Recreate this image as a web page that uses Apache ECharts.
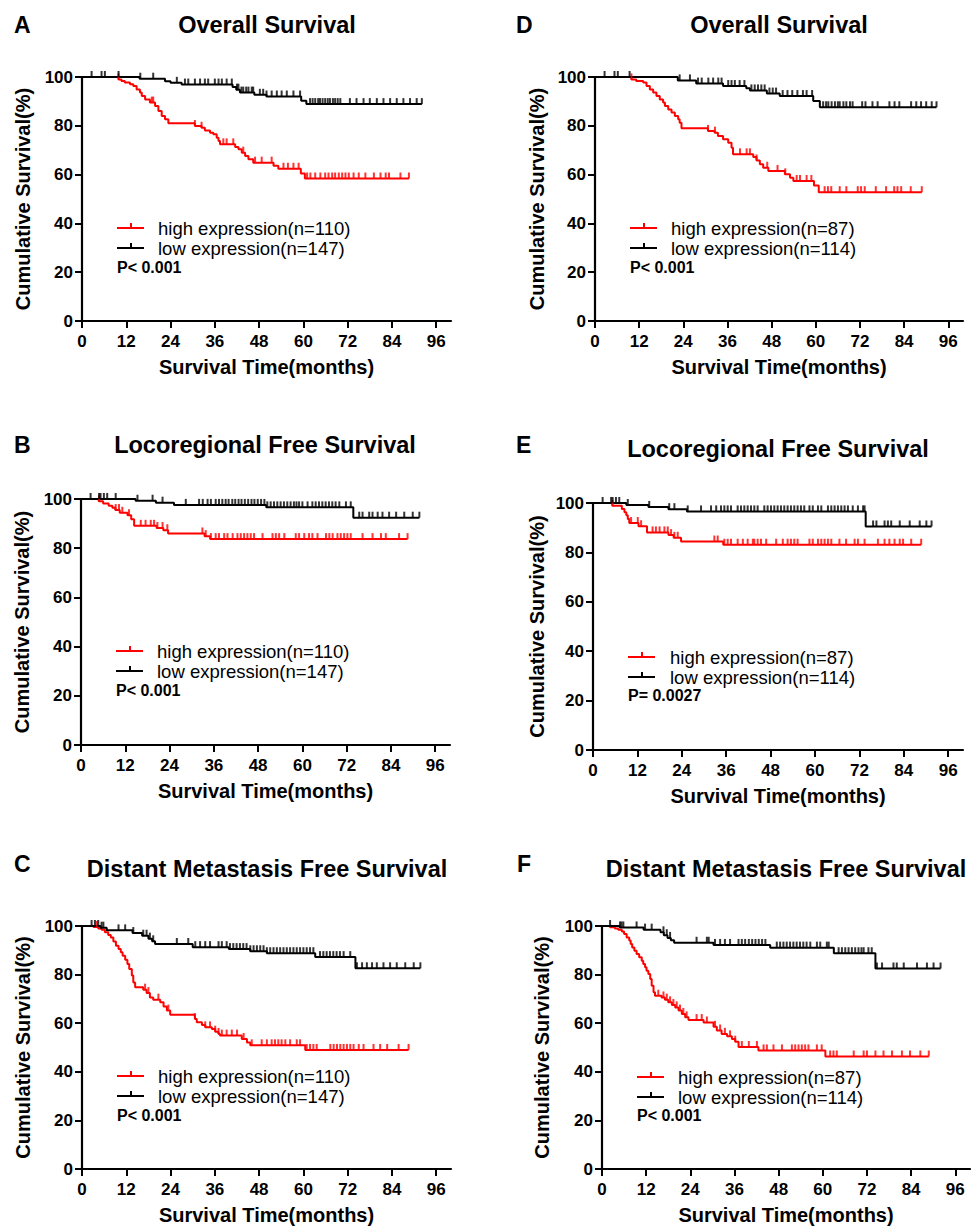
<!DOCTYPE html>
<html><head><meta charset="utf-8">
<script src="https://cdn.jsdelivr.net/npm/echarts@6/dist/echarts.min.js"></script>
<style>html,body{margin:0;padding:0;background:#fff}#c{width:971px;height:1226px}</style>
</head><body><div id="c"></div>
<script>
// ---------- DATA (time in months, cumulative survival in %) ----------
const xTicks = [0, 12, 24, 36, 48, 60, 72, 84, 96];
const panelLetters = ['A', 'B', 'C', 'D', 'E', 'F'];
const panelTitles = ['Overall Survival', 'Locoregional Free Survival', 'Distant Metastasis Free Survival',
                     'Overall Survival', 'Locoregional Free Survival', 'Distant Metastasis Free Survival'];
const highLabels = ['high expression(n=110)', 'high expression(n=110)', 'high expression(n=110)',
                    'high expression(n=87)', 'high expression(n=87)', 'high expression(n=87)'];
const lowLabels = ['low expression(n=147)', 'low expression(n=147)', 'low expression(n=147)',
                   'low expression(n=114)', 'low expression(n=114)', 'low expression(n=114)'];
const pValues = ['P< 0.001', 'P< 0.001', 'P< 0.001', 'P< 0.001', 'P= 0.0027', 'P< 0.001'];

// Panel A
const A_high = [[0,100],[9.9,99.0],[10.7,98.4],[11.6,97.7],[13.0,97.0],[13.9,96.3],[14.8,94.9],[15.7,93.6],[16.2,92.2],[17.1,90.8],[18.4,89.5],[19.8,88.1],[20.7,86.1],[21.6,84.0],[22.5,82.7],[23.4,81.0],[30.6,79.9],[32.4,79.2],[33.3,78.1],[34.7,77.2],[35.6,76.5],[36.5,75.1],[37.0,73.8],[37.4,72.4],[41.5,71.3],[42.4,70.4],[43.3,69.0],[44.2,67.6],[45.1,66.3],[46.4,64.9],[51.9,63.6],[53.2,62.4],[59.3,60.5],[60.4,58.4]];
const A_high_cens = [9.9,18.9,19.3,30.6,32.4,38.3,39.2,41.0,43.7,46.9,48.7,51.4,54.6,55.8,57.3,58.7,61.0,61.9,63.2,64.6,65.9,66.8,67.8,68.6,69.6,70.5,71.4,72.3,73.6,75.0,76.8,79.1,80.9,82.3,83.2,86.3,88.6];
const A_low = [[0,100],[15.6,99.3],[22.5,98.3],[24.0,97.6],[27.0,96.9],[40.8,95.9],[41.8,94.8],[42.8,93.6],[46.7,92.7],[50.0,92.0],[59.4,90.3],[60.8,88.9]];
const A_low_cens = [2.6,5.3,6.2,9.9,15.8,19.3,25.7,27.9,28.8,30.6,32.0,33.3,34.2,36.0,37.0,37.9,39.2,40.6,42.0,42.4,43.2,43.7,44.5,45.1,46.0,46.4,48.2,49.1,50.0,51.4,52.8,54.1,55.5,57.3,59.1,61.8,62.5,63.2,64.0,64.5,65.2,65.9,66.6,67.2,68.0,68.6,69.3,70.0,72.6,74.4,76.3,78.0,79.9,81.7,83.5,85.3,87.1,88.9,90.7,92.1];

// Panel B
const B_high = [[0,100],[4.8,99.1],[6.0,98.2],[7.5,97.3],[8.5,96.4],[9.3,95.5],[10.5,94.4],[12.6,93.4],[13.6,91.8],[14.4,89.1],[20.5,88.2],[22.3,87.3],[23.6,86.0],[33.5,84.9],[35.0,83.7]];
const B_high_cens = [4.9,9.4,10.3,11.2,13.0,16.2,17.5,18.9,19.8,20.7,22.1,23.4,32.9,33.8,35.2,36.5,37.4,38.8,39.7,41.1,42.4,43.3,44.2,45.1,46.0,46.9,49.2,51.9,52.8,53.7,55.1,58.2,59.1,60.5,61.8,62.7,64.1,66.4,67.3,68.2,69.5,70.4,71.3,72.2,73.1,76.3,79.0,81.3,82.6,86.2,88.5];
const B_low = [[0,100],[14.8,99.3],[20.3,98.5],[25.2,97.6],[50.2,96.6],[73.8,92.4]];
const B_low_cens = [2.6,4.9,5.3,6.2,7.1,9.4,15.3,19.4,22.1,28.4,32.0,33.0,34.3,35.2,36.5,37.4,38.3,39.2,40.0,41.0,41.8,42.7,43.5,44.4,45.3,46.2,47.0,47.9,48.8,49.7,50.5,51.4,52.3,53.2,54.1,55.0,55.9,56.8,57.7,58.4,59.1,60.0,61.4,62.7,63.6,64.5,65.4,66.3,67.2,68.1,69.0,70.0,71.8,73.1,75.4,76.3,78.1,79.0,80.4,81.7,83.5,85.4,87.6,89.9,91.7];

// Panel C
const C_high = [[0,100],[3.1,99.6],[4.4,99.0],[5.3,98.5],[6.2,97.4],[7.1,96.3],[7.8,95.3],[8.5,93.6],[9.2,91.9],[9.9,90.5],[10.5,89.2],[11.0,87.8],[11.7,86.1],[12.3,84.4],[12.8,82.3],[13.5,79.6],[13.9,76.8],[14.4,74.8],[16.6,73.8],[17.5,72.4],[18.4,70.6],[19.3,69.7],[21.2,68.6],[22.1,66.9],[23.0,65.2],[23.9,63.5],[30.6,61.7],[31.1,60.4],[32.5,59.3],[33.4,58.3],[35.2,57.6],[36.1,56.5],[37.0,55.6],[37.4,54.9],[43.3,53.5],[44.7,52.1],[45.6,50.9],[60.5,49.0]];
const C_high_cens = [4.0,17.1,18.0,20.7,23.4,30.6,33.4,34.7,36.1,37.0,37.9,39.2,40.6,42.0,43.8,46.0,48.7,50.1,51.4,52.3,53.2,54.1,55.1,56.4,58.2,59.1,60.9,61.8,62.7,63.6,67.3,68.2,69.1,70.0,70.9,71.8,72.7,73.6,75.0,76.3,79.0,80.8,82.7,85.8,88.5];
const C_low = [[0,100],[5.0,99.3],[6.7,98.2],[13.7,97.1],[16.3,96.0],[18.0,94.8],[19.0,93.7],[19.8,92.6],[30.0,91.3],[39.8,90.5],[45.6,89.6],[50.1,88.8],[63.2,87.2],[74.1,82.6]];
const C_low_cens = [2.6,3.5,4.4,5.3,5.8,9.9,11.7,13.9,16.6,17.5,18.4,19.3,25.7,28.8,30.7,32.0,33.4,34.7,37.0,37.9,39.2,40.1,41.0,41.9,42.8,43.7,44.6,45.6,46.5,47.4,48.3,49.2,50.1,51.0,51.9,52.8,53.7,54.6,55.5,56.4,57.3,58.2,59.1,60.0,60.9,61.8,62.7,64.5,65.4,66.3,67.2,68.1,69.0,69.9,70.9,72.7,74.5,75.9,77.2,78.6,79.9,81.7,83.5,85.3,87.6,89.9,91.7];

// Panel D
const D_high = [[0,100],[9.9,99.0],[11.2,98.4],[13.1,97.7],[14.0,96.3],[14.9,94.9],[15.8,93.6],[16.7,92.2],[17.6,90.8],[18.5,89.5],[19.0,88.1],[19.9,86.7],[20.8,85.4],[21.7,84.0],[22.6,82.7],[23.0,81.3],[23.5,79.0],[30.7,77.9],[32.5,77.2],[33.4,75.8],[34.8,74.5],[36.2,73.1],[37.1,71.0],[37.5,68.3],[43.0,67.2],[43.9,65.8],[44.8,64.2],[45.7,62.8],[47.1,61.5],[51.6,60.1],[53.0,58.7],[53.9,57.4],[59.5,55.5],[60.8,52.8]];
const D_high_cens = [9.9,30.7,32.6,39.4,41.2,42.1,43.9,46.8,49.6,51.7,54.8,55.7,57.5,58.8,62.4,63.3,64.2,66.5,68.3,71.4,72.3,73.3,76.3,79.1,81.3,82.2,83.2,85.8,88.8];
const D_low = [[0,100],[22.5,98.6],[27.5,97.3],[34.8,96.3],[41.1,95.4],[42.1,94.5],[46.7,93.2],[50.2,92.2],[59.3,90.2],[61.1,87.6]];
const D_low_cens = [2.6,5.3,6.2,9.4,23.0,25.8,28.0,29.0,30.8,32.1,33.5,34.4,36.2,37.1,38.0,39.3,40.6,42.5,43.4,44.3,45.2,46.1,47.4,48.3,49.2,51.0,52.3,53.6,55.0,56.5,57.5,59.0,62.0,62.8,63.4,64.3,65.2,66.0,66.5,67.5,68.3,69.3,70.0,72.6,73.5,75.4,76.8,80.0,81.4,82.7,85.9,87.3,88.6,90.0,91.5,92.8];

// Panel E
const E_high = [[0,100],[5.2,98.9],[7.8,97.6],[8.5,96.3],[9.0,95.0],[9.4,93.5],[9.8,91.9],[12.3,90.6],[14.6,88.1],[20.4,87.0],[21.8,85.9],[23.8,84.4],[35.2,83.1]];
const E_high_cens = [5.3,10.3,12.1,13.0,16.1,17.0,18.0,19.3,20.2,21.1,22.0,22.9,32.8,33.7,35.5,36.4,37.3,39.1,40.5,41.8,43.2,43.6,44.5,45.4,46.8,49.5,51.3,52.6,53.5,54.4,55.3,58.5,59.4,60.8,61.7,62.6,63.5,64.4,66.6,68.4,70.7,71.6,73.4,77.0,78.8,80.1,81.5,82.9,83.8,86.0,88.7];
const E_low = [[0,100],[9.0,99.2],[15.0,98.4],[20.4,97.5],[25.4,96.6],[73.7,90.5]];
const E_low_cens = [2.6,4.9,5.3,6.2,7.1,9.4,15.2,20.6,22.0,25.6,29.2,31.9,33.3,34.6,35.5,36.4,37.3,39.1,40.0,40.9,41.8,42.7,43.6,44.5,46.3,47.2,48.1,49.0,49.9,50.8,51.7,52.6,53.5,54.4,55.3,56.2,57.1,58.5,59.4,60.8,61.7,63.5,64.4,65.3,66.2,67.1,68.0,68.9,70.2,71.6,73.0,73.4,75.7,76.6,78.8,79.7,80.6,82.9,85.6,88.3,90.1,91.5];

// Panel F
const F_high = [[0,100],[2.2,99.5],[3.5,99.0],[4.4,98.5],[5.4,97.7],[6.0,96.7],[6.7,95.3],[7.4,94.0],[7.8,92.6],[8.2,91.2],[8.8,89.8],[9.4,88.5],[10.1,87.1],[10.8,85.7],[11.2,84.4],[11.7,83.0],[12.1,81.6],[12.6,80.2],[13.1,78.2],[13.5,75.4],[14.0,72.7],[14.4,71.3],[16.2,70.6],[17.1,69.7],[18.0,68.6],[19.0,67.5],[19.9,66.5],[20.8,65.2],[21.7,63.8],[22.6,62.4],[23.5,61.3],[27.6,60.3],[30.3,58.5],[31.2,57.0],[32.5,55.6],[34.0,54.6],[35.3,53.5],[36.2,52.4],[37.1,50.2],[42.5,48.8],[60.7,46.3]];
const F_high_cens = [15.3,16.7,17.6,18.5,19.4,20.3,21.2,22.1,23.0,25.7,27.1,28.5,30.7,32.1,33.4,34.8,36.2,38.0,39.9,42.1,43.9,44.8,46.6,48.9,51.6,52.5,53.4,54.3,55.2,56.1,58.4,59.7,62.0,62.9,63.8,68.4,71.1,72.0,74.3,76.5,78.8,81.5,83.7,86.5,88.8];
const F_low = [[0,100],[4.8,99.4],[11.3,98.5],[15.9,97.4],[16.8,96.2],[17.8,95.1],[18.7,94.1],[19.6,93.1],[30.3,92.2],[45.7,91.1],[63.0,88.8],[74.3,82.5]];
const F_low_cens = [2.2,4.9,5.3,5.8,9.4,11.7,13.5,16.7,17.6,18.5,25.7,28.5,29.0,30.7,32.1,33.4,34.8,37.1,38.0,38.9,39.9,40.8,41.7,42.6,43.5,44.4,47.5,48.4,49.3,50.2,51.1,52.0,52.9,53.8,54.7,55.6,56.6,58.4,59.3,61.1,61.6,64.3,65.2,66.1,67.0,67.9,68.8,69.7,70.5,71.1,72.4,73.3,74.7,76.1,79.2,80.1,82.0,85.6,88.3,90.1,92.0];

const highSteps = [A_high, B_high, C_high, D_high, E_high, F_high];
const highCens = [A_high_cens, B_high_cens, C_high_cens, D_high_cens, E_high_cens, F_high_cens];
const lowSteps = [A_low, B_low, C_low, D_low, E_low, F_low];
const lowCens = [A_low_cens, B_low_cens, C_low_cens, D_low_cens, E_low_cens, F_low_cens];

// ---------- LAYOUT (pixels) ----------
const FONT = '"Liberation Sans", Arial, Helvetica, sans-serif';
const L = [
  {x0:82,  x1:451, t:77,  b:321,  lx:14,  ly:25,  tx:267, ty:25,  gx:117, gt:158, gh:228,  gl:248,  gp:267,  yg:49},
  {x0:81,  x1:450, t:499, b:745,  lx:14,  ly:445, tx:265, ty:445, gx:116, gt:157, gh:651,  gl:671,  gp:690,  yg:49},
  {x0:82,  x1:451, t:926, b:1169, lx:14,  ly:864, tx:267, ty:869, gx:117, gt:158, gh:1076, gl:1096, gp:1115, yg:49},
  {x0:595, x1:963, t:77,  b:321,  lx:516, ly:25,  tx:779, ty:25,  gx:630, gt:671, gh:228,  gl:248,  gp:267,  yg:48},
  {x0:593, x1:963, t:503, b:750,  lx:516, ly:445, tx:778, ty:449, gx:628, gt:670, gh:657,  gl:677,  gp:695,  yg:46},
  {x0:602, x1:970, t:926, b:1169, lx:517, ly:864, tx:786, ty:869, gx:637, gt:678, gh:1077, gl:1097, gp:1115, yg:50}
];

function stepValueAt(steps, t) {
  let v = steps[0][1];
  for (const p of steps) { if (p[0] <= t) v = p[1]; else break; }
  return v;
}
function curve(steps, cens) {
  const end = Math.max(...cens, steps[steps.length - 1][0]);
  return steps.concat([[end, steps[steps.length - 1][1]]]);
}

const grids = [], xAxes = [], yAxes = [], series = [], graphics = [];
for (let i = 0; i < 6; i++) {
  const g = L[i];
  grids.push({left: g.x0, top: g.t, width: g.x1 - g.x0, height: g.b - g.t, containLabel: false});
  xAxes.push({
    gridIndex: i, type: 'value', min: 0, max: 100,
    axisLine: {show: true, onZero: false, lineStyle: {color: '#000', width: 2.2}},
    axisTick: {show: true, length: 7, lineStyle: {color: '#000', width: 2}, customValues: xTicks},
    axisLabel: {customValues: xTicks, margin: 12, color: '#000', fontSize: 17, fontWeight: 'bold', fontFamily: FONT},
    splitLine: {show: false},
    name: 'Survival Time(months)', nameLocation: 'middle', nameGap: 36,
    nameTextStyle: {color: '#000', fontSize: 20, fontWeight: 'bold', fontFamily: FONT}
  });
  yAxes.push({
    gridIndex: i, type: 'value', min: 0, max: 100, interval: 20,
    axisLine: {show: true, onZero: false, lineStyle: {color: '#000', width: 2.2}},
    axisTick: {show: true, length: 7, lineStyle: {color: '#000', width: 2}},
    axisLabel: {margin: 9, color: '#000', fontSize: 17, fontWeight: 'bold', fontFamily: FONT},
    splitLine: {show: false},
    name: 'Cumulative Survival(%)', nameLocation: 'middle', nameGap: g.yg,
    nameTextStyle: {color: '#000', fontSize: 20, fontWeight: 'bold', fontFamily: FONT}
  });
  const groups = [
    {steps: highSteps[i], cens: highCens[i], color: '#ff0000', name: highLabels[i]},
    {steps: lowSteps[i], cens: lowCens[i], color: '#000000', name: lowLabels[i]}
  ];
  groups.forEach(gr => {
    series.push({
      type: 'line', name: gr.name, xAxisIndex: i, yAxisIndex: i, step: 'end',
      data: curve(gr.steps, gr.cens), showSymbol: false, silent: true, animation: false,
      lineStyle: {color: gr.color, width: 2}, z: 3
    });
    series.push({
      type: 'scatter', name: gr.name, xAxisIndex: i, yAxisIndex: i, silent: true, animation: false,
      data: gr.cens.map(c => [c, stepValueAt(gr.steps, c)]),
      symbol: 'rect', symbolSize: [2, 6], symbolOffset: [0, -3],
      itemStyle: {color: gr.color}, z: 4
    });
  });
  graphics.push({type: 'text', style: {text: panelLetters[i], x: g.lx, y: g.ly, fill: '#000',
    font: 'bold 23px ' + FONT, textAlign: 'left', textVerticalAlign: 'middle'}});
  graphics.push({type: 'text', style: {text: panelTitles[i], x: g.tx, y: g.ty, fill: '#000',
    font: 'bold 23.5px ' + FONT, textAlign: 'center', textVerticalAlign: 'middle'}});
  [[g.gh, '#ff0000', highLabels[i]], [g.gl, '#000000', lowLabels[i]]].forEach(([yy, col, txt]) => {
    graphics.push({type: 'line', shape: {x1: g.gx, y1: yy, x2: g.gx + 27, y2: yy}, style: {stroke: col, lineWidth: 2}});
    graphics.push({type: 'line', shape: {x1: g.gx + 14, y1: yy, x2: g.gx + 14, y2: yy - 5}, style: {stroke: col, lineWidth: 2}});
    graphics.push({type: 'text', style: {text: txt, x: g.gt, y: yy, fill: '#000',
      font: '18.5px ' + FONT, textAlign: 'left', textVerticalAlign: 'middle'}});
  });
  graphics.push({type: 'text', style: {text: pValues[i], x: g.gx, y: g.gp, fill: '#000',
    font: 'bold 16px ' + FONT, textAlign: 'left', textVerticalAlign: 'middle'}});
}

const chart = echarts.init(document.getElementById('c'), null, {renderer: 'svg', width: 971, height: 1226});
chart.setOption({
  backgroundColor: '#ffffff',
  animation: false,
  grid: grids, xAxis: xAxes, yAxis: yAxes, series: series,
  graphic: graphics
});
</script></body></html>
